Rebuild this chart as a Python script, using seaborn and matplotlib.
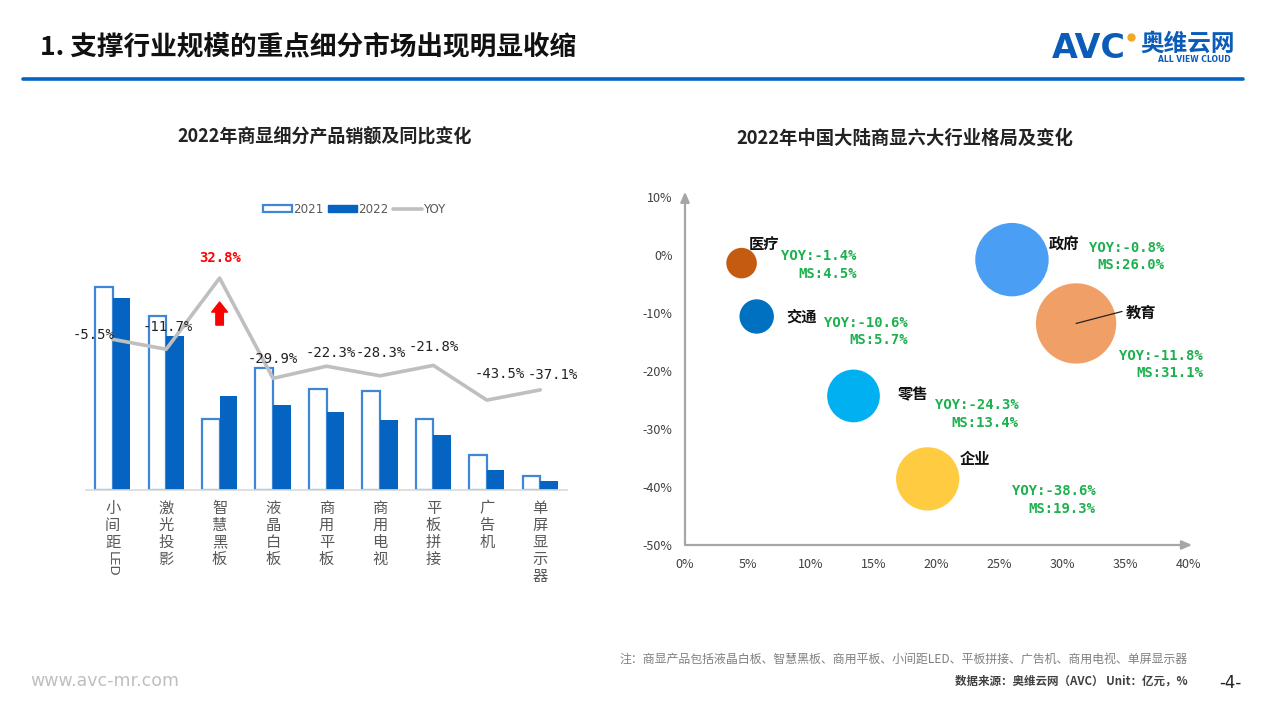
import numpy as np
import pandas as pd
import matplotlib
matplotlib.use('Agg')
import matplotlib.pyplot as plt
import seaborn as sns
from matplotlib.patches import Patch
from matplotlib.lines import Line2D
from matplotlib.transforms import blended_transform_factory

# ---------------- data ----------------
categories = ['小间距LED', '激光投影', '智慧黑板', '液晶白板', '商用平板',
              '商用电视', '平板拼接', '广告机', '单屏显示器']
sales_2021 = [101.5, 87.0, 35.5, 61.0, 50.5, 49.5, 35.5, 17.5, 7.0]
sales_2022 = [96.0, 77.0, 47.0, 42.5, 39.0, 35.0, 27.5, 10.0, 4.4]
yoy = [-5.5, -11.7, 32.8, -29.9, -22.3, -28.3, -21.8, -43.5, -37.1]
years = ['2021', '2022']

industries = ['医疗', '交通', '零售', '企业', '政府', '教育']
ind_ms = [4.5, 5.7, 13.4, 19.3, 26.0, 31.1]
ind_yoy = [-1.4, -10.6, -24.3, -38.6, -0.8, -11.8]
ind_colors = ['#C55A11', '#0070C0', '#00B0F0', '#FFCB40', '#4A9FF5', '#F0A066']

# ---------------- layout (pixel offsets for labels) ----------------
yoy_label_off = [(-19, 4), (2, 22), (1, 20), (0, 19), (4, 13), (1, 23), (0, 18), (13, 26), (12, 15)]
name_off = [(22, 19), (45, 0), (59, 2), (47, 20), (52, 16), (65, 11)]
green_off = [(115, -2), (151, -15), (165, -18), (168, -21), (152, 3), (127, -41)]

W, H = 1267, 718
BLUE = '#0563C1'
EDGE = '#3F86D6'

sns.set_theme(style='white')
plt.rcParams['font.family'] = ['Noto Sans CJK SC', 'DejaVu Sans']
plt.rcParams['axes.unicode_minus'] = False

fig = plt.figure(figsize=(W / 100, H / 100), dpi=100)
fig.patch.set_facecolor('white')


def fx(px):
    return px / W


def fy(py):
    return 1 - py / H


def rect(l, t, r, b):
    return [fx(l), fy(b), (r - l) / W, (b - t) / H]


# ---------------- header ----------------
fig.text(fx(40), fy(47), '1. 支撑行业规模的重点细分市场出现明显收缩', fontsize=19.2,
         fontweight='bold', color='#111111', ha='left', va='center')
fig.add_artist(Line2D([fx(23), fx(1243)], [fy(79), fy(79)], color=BLUE, lw=2.6))
fig.text(fx(1052), fy(48), 'AVC', fontsize=24, fontweight='bold', family='DejaVu Sans',
         color='#0B5CB8', ha='left', va='center')
fig.add_artist(Line2D([fx(1131)], [fy(37)], marker='o', ms=5, color='#F5A623', lw=0))
fig.text(fx(1140), fy(44), '奥维云网', fontsize=17, fontweight='bold', color='#0B5CB8',
         ha='left', va='center')
fig.text(fx(1158), fy(59), 'ALL VIEW CLOUD', fontsize=5.5, fontweight='bold',
         family='DejaVu Sans', color='#0B5CB8', ha='left', va='center')

# ---------------- subtitles ----------------
fig.text(fx(325), fy(137), '2022年商显细分产品销额及同比变化', fontsize=13,
         fontweight='bold', color='#222222', ha='center', va='center')
fig.text(fx(905), fy(138), '2022年中国大陆商显六大行业格局及变化', fontsize=13.2,
         fontweight='bold', color='#222222', ha='center', va='center')

# ---------------- left chart ----------------
ax = fig.add_axes(rect(86, 240, 567, 490))
df = pd.DataFrame({
    'cat': categories * 2,
    'val': sales_2021 + sales_2022,
    'year': [years[0]] * len(categories) + [years[1]] * len(categories),
})
sns.barplot(data=df, x='cat', y='val', hue='year', palette=[BLUE, BLUE], width=0.66,
            ax=ax, legend=False, order=categories, hue_order=years)
for p in ax.containers[0]:
    p.set_facecolor('white')
    p.set_edgecolor(EDGE)
    p.set_linewidth(1.6)
for p in ax.containers[1]:
    p.set_facecolor(BLUE)
    p.set_edgecolor(BLUE)
    p.set_linewidth(0)
ax.set_ylim(0, 125)
ax.set_xlim(-0.5, len(categories) - 0.5)
ax.set_xlabel('')
ax.set_ylabel('')
ax.set_yticks([])
for s in ['top', 'right', 'left']:
    ax.spines[s].set_visible(False)
ax.spines['bottom'].set_color('#D9D9D9')
ax.spines['bottom'].set_linewidth(1.2)


def split_label(s):
    cjk = ''.join(ch for ch in s if ord(ch) > 127)
    asc = ''.join(ch for ch in s if ord(ch) <= 127)
    return cjk, asc


ax.set_xticks(range(len(categories)))
ax.set_xticklabels(['\n'.join(split_label(c)[0]) for c in categories], va='top',
                   linespacing=1.0, fontsize=11, color='#595959')
ax.tick_params(axis='x', length=0, pad=7)

ax2 = ax.twinx()
sns.lineplot(x=np.arange(len(categories)), y=yoy, ax=ax2, color='#BFBFBF', lw=2.6)
ax2.set_ylim(-99.7, 56.6)
ax2.set_yticks([])
ax2.set_ylabel('')
for s in ax2.spines.values():
    s.set_visible(False)

for i, v in enumerate(yoy):
    red = v > 0
    ax2.annotate(f'{v:.1f}%', xy=(i, v), xytext=yoy_label_off[i], textcoords='offset pixels',
                 ha='center', va='center', fontsize=10, family='DejaVu Sans Mono',
                 color='#FF0000' if red else '#222222', fontweight='bold' if red else 'normal')
    if red:
        ax2.annotate('', xy=(i, v - 15), xytext=(i, v - 29.4),
                     arrowprops=dict(arrowstyle='simple,head_length=0.6,head_width=0.95,tail_width=0.45',
                                     color='#FF0000', shrinkA=0, shrinkB=0))

ax.legend(handles=[Patch(facecolor='white', edgecolor=EDGE, lw=1.6, label=years[0]),
                   Patch(facecolor=BLUE, edgecolor=BLUE, label=years[1]),
                   Line2D([], [], color='#BFBFBF', lw=2.6, label='YOY')],
          loc='center', bbox_to_anchor=(fx(354), fy(209)), bbox_transform=fig.transFigure,
          ncol=3, frameon=False, fontsize=9, handlelength=2.4, handleheight=0.55,
          handletextpad=0.1, columnspacing=0.4, labelcolor='#595959',
          prop={'family': 'DejaVu Sans', 'size': 8.6})

# rotated latin part of tick labels (e.g. LED)
fig.canvas.draw()
renderer = fig.canvas.get_renderer()
inv = ax.transAxes.inverted()
for i, (lab, c) in enumerate(zip(ax.get_xticklabels(), categories)):
    asc = split_label(c)[1]
    if asc:
        bb = lab.get_window_extent(renderer)
        y_ax = inv.transform((0, bb.y0))[1]
        ax.text(i, y_ax, asc, rotation=-90, ha='center', va='top', fontsize=9.5,
                color='#595959', family='DejaVu Sans',
                transform=blended_transform_factory(ax.transData, ax.transAxes))

# ---------------- right chart ----------------
bx = fig.add_axes(rect(685, 197, 1188, 545))
dfb = pd.DataFrame({'name': industries, 'ms': ind_ms, 'yoy': ind_yoy})
sns.scatterplot(data=dfb, x='ms', y='yoy', hue='name', palette=ind_colors, size='ms',
                sizes=(107.5 * min(ind_ms), 107.5 * max(ind_ms)), legend=False,
                linewidth=0, alpha=1, ax=bx, zorder=3)
bx.set_xlim(0, 40)
bx.set_ylim(-50, 10)
bx.set_xticks(np.arange(0, 41, 5))
bx.set_xticklabels([f'{int(t)}%' for t in np.arange(0, 41, 5)])
bx.set_yticks(np.arange(-50, 11, 10))
bx.set_yticklabels([f'{int(t)}%' for t in np.arange(-50, 11, 10)])
bx.tick_params(length=0, labelsize=9, colors='#404040')
bx.tick_params(axis='x', pad=9)
bx.tick_params(axis='y', pad=9)
bx.set_xlabel('')
bx.set_ylabel('')
for s in bx.spines.values():
    s.set_visible(False)
bx.annotate('', xy=(0, 1.015), xytext=(0, 0), xycoords='axes fraction',
            arrowprops=dict(arrowstyle='-|>,head_length=0.5,head_width=0.22', color='#A6A6A6',
                            lw=1.6, shrinkA=0, shrinkB=0))
bx.annotate('', xy=(1.008, 0), xytext=(0, 0), xycoords='axes fraction',
            arrowprops=dict(arrowstyle='-|>,head_length=0.5,head_width=0.22', color='#A6A6A6',
                            lw=1.6, shrinkA=0, shrinkB=0))

for i, (n, m, y) in enumerate(zip(industries, ind_ms, ind_yoy)):
    bx.annotate(n, xy=(m, y), xytext=name_off[i], textcoords='offset pixels', ha='center',
                va='center', fontsize=11, fontweight='bold', color='#111111', zorder=5)
    bx.annotate(f'YOY:{y:.1f}%\nMS:{m:.1f}%', xy=(m, y), xytext=green_off[i],
                textcoords='offset pixels', ha='right', va='center', multialignment='right',
                fontsize=10, fontweight='bold', family='DejaVu Sans Mono', color='#1DB04E',
                linespacing=1.3, zorder=5)
    if n == '教育':
        bx.annotate('', xy=(m, y), xytext=(46, 12), textcoords='offset pixels',
                    arrowprops=dict(arrowstyle='-', color='#222222', lw=0.9, shrinkA=0, shrinkB=0),
                    zorder=6)

# ---------------- footer ----------------
fig.text(fx(30), fy(681), 'www.avc-mr.com', fontsize=12.5, family='DejaVu Sans',
         color='#BFBFBF', ha='left', va='center')
fig.text(fx(1188), fy(659), '注：商显产品包括液晶白板、智慧黑板、商用平板、小间距LED、平板拼接、广告机、商用电视、单屏显示器',
         fontsize=8.6, color='#808080', ha='right', va='center')
fig.text(fx(1188), fy(681), '数据来源：奥维云网（AVC） Unit：亿元，%', fontsize=8.3,
         color='#404040', ha='right', va='center', fontweight='bold')
fig.text(fx(1230), fy(683), '-4-', fontsize=12, color='#222222', ha='center', va='center',
         family='DejaVu Sans')

fig.savefig('out.png', dpi=100, facecolor='white')
